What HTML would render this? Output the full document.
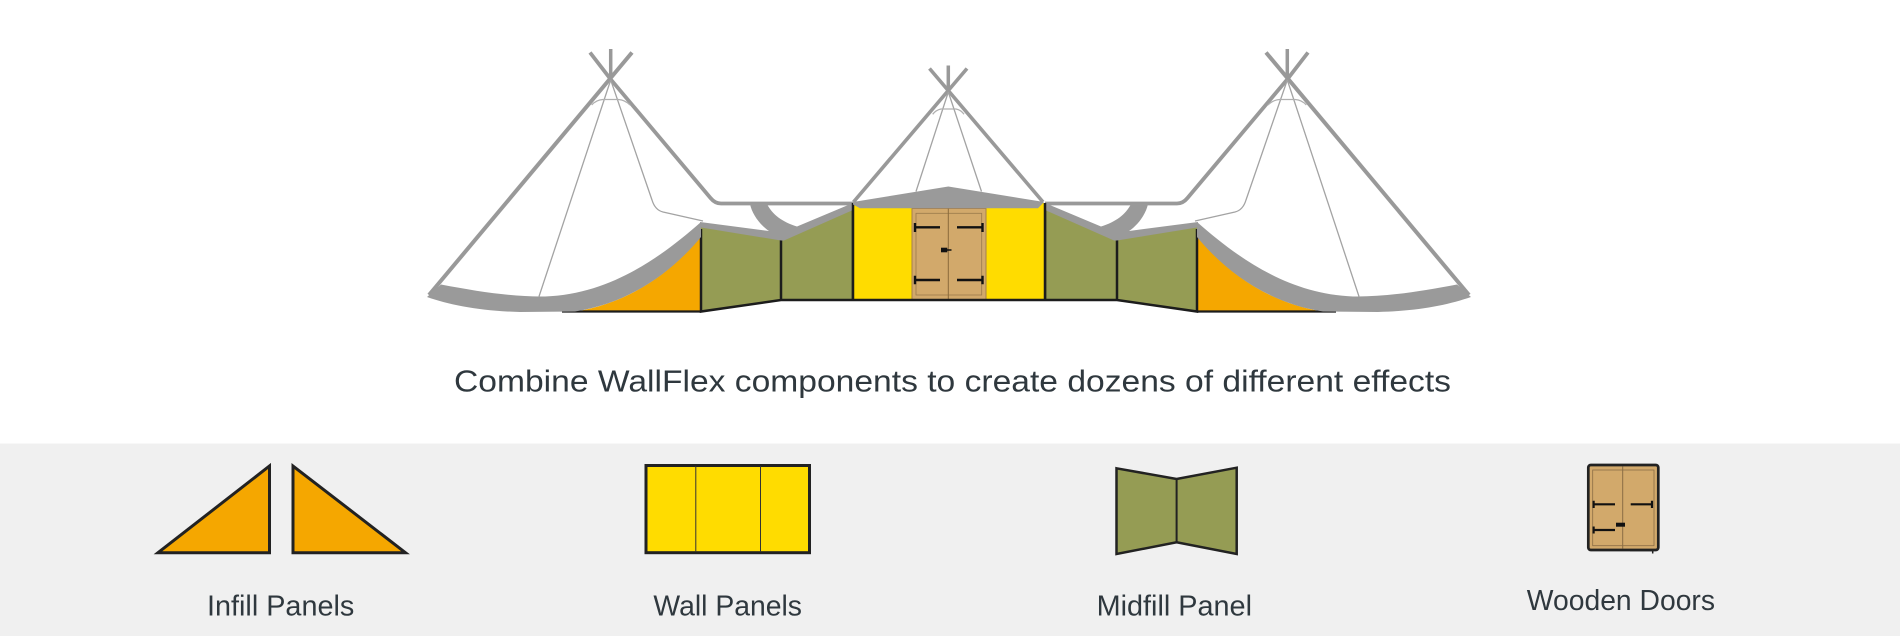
<!DOCTYPE html>
<html>
<head>
<meta charset="utf-8">
<style>
  html, body { margin: 0; padding: 0; background: #ffffff; }
  body { width: 1900px; height: 636px; overflow: hidden; }
  svg { display: block; }
  text { font-family: "Liberation Sans", Arial, sans-serif; fill: #2f383e; }
</style>
</head>
<body>
<svg width="1900" height="636" viewBox="0 0 1900 636" xmlns="http://www.w3.org/2000/svg">
  <rect x="0" y="0" width="1900" height="636" fill="#ffffff"/>
  <rect x="0" y="443.5" width="1900" height="192.5" fill="#f0f0f0"/>

  <!-- LEFT HALF -->
  <g>
    <path d="M632,52.5 L429,295" stroke="#999999" stroke-width="4" fill="none"/>
    <path d="M590,52.5 L610.7,79.3 L710.5,198 Q715,203.5 721,203.5 L853,203.5" stroke="#999999" stroke-width="3.8" fill="none" stroke-linejoin="round"/>
    <path d="M610.7,49 L610.7,80" stroke="#999999" stroke-width="3.5"/>
    <path d="M610.7,80 L539,296.5" stroke="#a3a3a3" stroke-width="1.3" fill="none"/>
    <path d="M610.7,80 L652,200 Q655,210 663,212 L703,221" stroke="#a3a3a3" stroke-width="1.3" fill="none"/>
    <path d="M591.7,105 Q596,100 603,99.5 L618.5,99.5 Q625,100 630,105" stroke="#b0b0b0" stroke-width="1.3" fill="none"/>

    <path d="M575,311.5 L701,311.5 L701,236 C672,272 630,303 575,311.5 Z" fill="#f5a700"/>
    <polygon points="701,226 781,239 781,300 701,311.5" fill="#959c54"/>
    <polygon points="781,238 853,206 853,300 781,300" fill="#959c54"/>
    <path d="M701,229 V311.5 L781,300 H853 M781,237 V300 M853,204 V300" stroke="#1c1c1c" stroke-width="2.5" fill="none"/>
    <path d="M562,311.5 H701" stroke="#1c1c1c" stroke-width="2.2"/>

    <path d="M427,297 L441,284.5 C480,292 515,297 545,296.5 C610,294 660,258 701,222 L701,237 C672,272 630,303 575,311.5 L520,312 C480,311 450,305 427,297 Z" fill="#9a9a9a"/>
    <path d="M700,222 L769,231 C760,225 752,214 750,204 L767,204 C772,214 782,222 797,226.5 L853,203 L853,210 L784,240.5 L781,240.5 L701,227.5 Z" fill="#9a9a9a"/>
  </g>

  <!-- RIGHT HALF (mirror) -->
  <g transform="matrix(-1,0,0,1,1898,0)">
    <path d="M632,52.5 L429,295" stroke="#999999" stroke-width="4" fill="none"/>
    <path d="M590,52.5 L610.7,79.3 L710.5,198 Q715,203.5 721,203.5 L853,203.5" stroke="#999999" stroke-width="3.8" fill="none" stroke-linejoin="round"/>
    <path d="M610.7,49 L610.7,80" stroke="#999999" stroke-width="3.5"/>
    <path d="M610.7,80 L539,296.5" stroke="#a3a3a3" stroke-width="1.3" fill="none"/>
    <path d="M610.7,80 L652,200 Q655,210 663,212 L703,221" stroke="#a3a3a3" stroke-width="1.3" fill="none"/>
    <path d="M591.7,105 Q596,100 603,99.5 L618.5,99.5 Q625,100 630,105" stroke="#b0b0b0" stroke-width="1.3" fill="none"/>
    <path d="M575,311.5 L701,311.5 L701,236 C672,272 630,303 575,311.5 Z" fill="#f5a700"/>
    <polygon points="701,226 781,239 781,300 701,311.5" fill="#959c54"/>
    <polygon points="781,238 853,206 853,300 781,300" fill="#959c54"/>
    <path d="M701,229 V311.5 L781,300 H853 M781,237 V300 M853,204 V300" stroke="#1c1c1c" stroke-width="2.5" fill="none"/>
    <path d="M562,311.5 H701" stroke="#1c1c1c" stroke-width="2.2"/>
    <path d="M427,297 L441,284.5 C480,292 515,297 545,296.5 C610,294 660,258 701,222 L701,237 C672,272 630,303 575,311.5 L520,312 C480,311 450,305 427,297 Z" fill="#9a9a9a"/>
    <path d="M700,222 L769,231 C760,225 752,214 750,204 L767,204 C772,214 782,222 797,226.5 L853,203 L853,210 L784,240.5 L781,240.5 L701,227.5 Z" fill="#9a9a9a"/>
  </g>

  <!-- CENTER TIPI -->
  <path d="M967,68.5 L853.5,202" stroke="#999999" stroke-width="3.6" fill="none"/>
  <path d="M929.5,68.5 L1043,202" stroke="#999999" stroke-width="3.6" fill="none"/>
  <path d="M948.3,65.5 L948.3,92" stroke="#999999" stroke-width="3.5"/>
  <path d="M948.3,92 L916,191.5 M948.3,92 L981.5,191.5" stroke="#a3a3a3" stroke-width="1.3" fill="none"/>
  <path d="M932.7,114.3 Q936,110 941,109 L956,109 Q961,110 964,114.3" stroke="#b0b0b0" stroke-width="1.3" fill="none"/>

  <rect x="853" y="203" width="59" height="97" fill="#ffdc00"/>
  <rect x="986" y="203" width="59" height="97" fill="#ffdc00"/>
  <rect x="912" y="208.5" width="74" height="91.5" fill="#d2a96b" stroke="#a5804c" stroke-width="1"/>
  <rect x="916" y="213.3" width="65.7" height="81.7" fill="none" stroke="#9a7a4a" stroke-width="0.8"/>
  <path d="M948.3,208.5 V300" stroke="#8a6a3a" stroke-width="1"/>
  <g stroke="#111111" stroke-width="2.4" fill="none">
    <path d="M914,227.3 H940 M915,223 V232"/>
    <path d="M957,227.3 H983 M982.5,223 V232"/>
    <path d="M914,280 H940 M915,275.7 V284.3"/>
    <path d="M957,280 H983 M982.5,275.7 V284.3"/>
  </g>
  <rect x="941" y="247.7" width="6.3" height="4.6" fill="#111111"/>
  <path d="M947,250 H951.5" stroke="#111111" stroke-width="1.5"/>
  <path d="M853,300 H1045 M1045,203 V300 M853,203 V300" stroke="#1c1c1c" stroke-width="2.5" fill="none"/>
  <polygon points="853,202 948.3,186.5 1044,202 1038,208.3 860,208.3 853,204.5" fill="#9a9a9a"/>

  <text x="454" y="391.5" font-size="31" textLength="997" lengthAdjust="spacingAndGlyphs">Combine WallFlex components to create dozens of different effects</text>

  <!-- BOTTOM LEGEND -->
  <polygon points="158,552.7 269.5,466 269.5,552.7" fill="#f5a700" stroke="#222222" stroke-width="3" stroke-linejoin="miter"/>
  <polygon points="293,466 293,552.7 405.5,552.7" fill="#f5a700" stroke="#222222" stroke-width="3" stroke-linejoin="miter"/>
  <text x="207" y="615.7" font-size="29" textLength="147.3" lengthAdjust="spacingAndGlyphs">Infill Panels</text>

  <rect x="646" y="465.5" width="163.5" height="87.2" fill="#ffdc00" stroke="#222222" stroke-width="3"/>
  <path d="M695.8,466 V552 M760.5,466 V552" stroke="#333333" stroke-width="1"/>
  <text x="653.4" y="615.7" font-size="29" textLength="148.6" lengthAdjust="spacingAndGlyphs">Wall Panels</text>

  <polygon points="1116.5,468.3 1176.6,479 1236.7,467.7 1236.7,554 1176.6,542.3 1116.5,554" fill="#959c54" stroke="#222222" stroke-width="2.5" stroke-linejoin="miter"/>
  <path d="M1176.6,479 V542.3" stroke="#222222" stroke-width="2"/>
  <text x="1096.6" y="615.7" font-size="29" textLength="155.4" lengthAdjust="spacingAndGlyphs">Midfill Panel</text>

  <rect x="1588.3" y="465" width="70" height="85" rx="2.5" fill="#d2a96b" stroke="#222222" stroke-width="2.7"/>
  <rect x="1592.7" y="470" width="61.3" height="75.7" fill="none" stroke="#8a6d45" stroke-width="0.8"/>
  <path d="M1622.7,466.5 V548.5" stroke="#8a6d45" stroke-width="1"/>
  <g stroke="#111111" stroke-width="2.2" fill="none">
    <path d="M1592.7,504.3 H1615 M1593.6,500.8 V508"/>
    <path d="M1630.7,504.3 H1652.7 M1652,500.8 V508"/>
    <path d="M1592.7,530 H1615 M1593.6,526.5 V533.5"/>
  </g>
  <rect x="1616" y="522.7" width="9" height="4" fill="#111111"/>
  <path d="M1630,550.5 H1653 M1652.7,550 V553.5" stroke="#222222" stroke-width="1.5" fill="none"/>
  <text x="1526.8" y="610" font-size="29" textLength="188.2" lengthAdjust="spacingAndGlyphs">Wooden Doors</text>
</svg>
</body>
</html>
